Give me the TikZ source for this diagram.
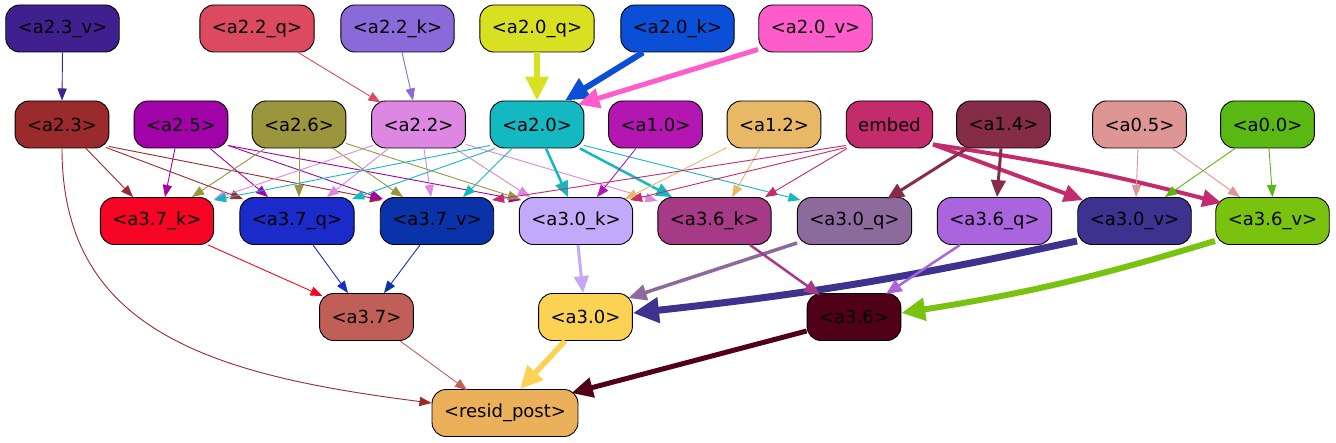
\documentclass[tikz,border=0pt]{standalone}
\usepackage{fontspec}
\newfontfamily\dv{DejaVu Sans}
\usetikzlibrary{arrows.meta}
\definecolor{c23v}{HTML}{40208F}
\definecolor{c22q}{HTML}{DC4A5F}
\definecolor{c22k}{HTML}{8A6AD8}
\definecolor{c20q}{HTML}{D9E021}
\definecolor{c20k}{HTML}{0A4FD6}
\definecolor{c20v}{HTML}{FF5CCB}
\definecolor{c23}{HTML}{9B2A2C}
\definecolor{c25}{HTML}{A203A8}
\definecolor{c26}{HTML}{9B963D}
\definecolor{c22}{HTML}{DD86E2}
\definecolor{c20}{HTML}{14B8C1}
\definecolor{c10}{HTML}{B316B1}
\definecolor{c12}{HTML}{E7B866}
\definecolor{cemb}{HTML}{C32B6D}
\definecolor{c14}{HTML}{852C49}
\definecolor{c05}{HTML}{DD9694}
\definecolor{c00}{HTML}{5AB813}
\definecolor{c37k}{HTML}{F60524}
\definecolor{c37q}{HTML}{1A2BC9}
\definecolor{c37v}{HTML}{0A33A9}
\definecolor{c30k}{HTML}{C3A9F9}
\definecolor{c36k}{HTML}{A63A86}
\definecolor{c30q}{HTML}{8D6A9C}
\definecolor{c36q}{HTML}{A964DE}
\definecolor{c30v}{HTML}{3E328F}
\definecolor{c36v}{HTML}{79C30F}
\definecolor{c37}{HTML}{C05F58}
\definecolor{c30}{HTML}{FBD253}
\definecolor{c36}{HTML}{510019}
\definecolor{cres}{HTML}{EBB05A}
\tikzset{
  nd/.style={draw=black, line width=0.9pt, rounded corners=14pt, minimum height=47pt,
    inner xsep=12pt, inner ysep=0pt, font={\dv\fontsize{18}{20}\selectfont}, text=black},
  e/.style={-{Triangle[length=10pt 2.3, width=7pt 2.5]}, line width=0.9pt},
}
\begin{document}
\begin{tikzpicture}[x=1pt,y=1pt]
\fill[white] (0,0) rectangle (1336,-443);
\useasboundingbox (0,0) rectangle (1336,-443);
% row 1
\node[nd, fill=c23v] (a23v) at (62.5,-28.5) {<a2.3\_v>};
\node[nd, fill=c22q] (a22q) at (257,-28.5) {<a2.2\_q>};
\node[nd, fill=c22k] (a22k) at (397.5,-28.5) {<a2.2\_k>};
\node[nd, fill=c20q] (a20q) at (537,-28.5) {<a2.0\_q>};
\node[nd, fill=c20k] (a20k) at (677.5,-28.5) {<a2.0\_k>};
\node[nd, fill=c20v] (a20v) at (815.5,-28.5) {<a2.0\_v>};
% row 2
\node[nd, fill=c23] (a23) at (62,-124.5) {<a2.3>};
\node[nd, fill=c25] (a25) at (181,-124.5) {<a2.5>};
\node[nd, fill=c26] (a26) at (299,-124.5) {<a2.6>};
\node[nd, fill=c22] (a22) at (418.5,-124.5) {<a2.2>};
\node[nd, fill=c20] (a20) at (537,-124.5) {<a2.0>};
\node[nd, fill=c10] (a10) at (655.5,-124.5) {<a1.0>};
\node[nd, fill=c12] (a12) at (774,-124.5) {<a1.2>};
\node[nd, fill=cemb] (emb) at (889.5,-124.5) {embed};
\node[nd, fill=c14] (a14) at (1003.5,-124.5) {<a1.4>};
\node[nd, fill=c05] (a05) at (1139.5,-124.5) {<a0.5>};
\node[nd, fill=c00] (a00) at (1267.5,-124.5) {<a0.0>};
% row 3
\node[nd, fill=c37k] (a37k) at (157,-221) {<a3.7\_k>};
\node[nd, fill=c37q] (a37q) at (297,-221) {<a3.7\_q>};
\node[nd, fill=c37v] (a37v) at (437,-221) {<a3.7\_v>};
\node[nd, fill=c30k] (a30k) at (576,-221) {<a3.0\_k>};
\node[nd, fill=c36k] (a36k) at (714.5,-221) {<a3.6\_k>};
\node[nd, fill=c30q] (a30q) at (854.5,-221) {<a3.0\_q>};
\node[nd, fill=c36q] (a36q) at (994.5,-221) {<a3.6\_q>};
\node[nd, fill=c30v] (a30v) at (1134.5,-221) {<a3.0\_v>};
\node[nd, fill=c36v] (a36v) at (1272.5,-221) {<a3.6\_v>};
% row 4
\node[nd, fill=c37] (a37) at (366.5,-317) {<a3.7>};
\node[nd, fill=c30] (a30) at (585.5,-317) {<a3.0>};
\node[nd, fill=c36] (a36) at (854,-317) {<a3.6>};
% row 5
\node[nd, fill=cres] (res) at (505,-413) {<resid\_post>};

% row1 -> row2
\draw[e, c23v] (a23v.south) -- (a23.north);
\draw[e, c22q] ([xshift=41]a22q.south) -- ([xshift=-38,yshift=-2]a22.north);
\draw[e, c22k] ([xshift=4.5]a22k.south) -- ([xshift=-5.5]a22.north);
\draw[e, c20q, line width=6pt] (a20q.south) -- (a20.north);
\draw[e, c20k, line width=6pt] ([xshift=-34.5]a20k.south) -- ([xshift=28]a20.north);
\draw[e, c20v, line width=5pt] ([xshift=-57.5,yshift=3]a20v.south) -- ([xshift=41,yshift=-4]a20.north);

% row2 -> row3
\draw[e, c23] ([xshift=24]a23.south) -- ([xshift=-24]a37k.north);
\draw[e, c23] ([xshift=44,yshift=1]a23.south) -- ([xshift=-54,yshift=-2]a37q.north);
\draw[e, c23] ([xshift=47,yshift=2]a23.south) -- ([xshift=-55,yshift=-3]a37v.north);
\draw[e, c23] (a23.south) .. controls (62,-330) and (210,-375) .. ([yshift=10]res.west);

\draw[e, c25] ([xshift=-6]a25.south) -- ([xshift=8]a37k.north);
\draw[e, c25] ([xshift=29]a25.south) -- ([xshift=-29]a37q.north);
\draw[e, c25] ([xshift=47,yshift=3]a25.south) -- ([xshift=-54,yshift=-2]a37v.north);
\draw[e, c25] ([xshift=47,yshift=3]a25.south) -- ([xshift=-55,yshift=-3]a30k.north);

\draw[e, c26] ([xshift=-34]a26.south) -- ([xshift=35]a37k.north);
\draw[e, c26] (a26.south) -- ([xshift=2]a37q.north);
\draw[e, c26] ([xshift=34]a26.south) -- ([xshift=-34]a37v.north);
\draw[e, c26] ([xshift=47,yshift=5]a26.south) -- ([xshift=-56,yshift=-2]a30k.north);

\draw[e, c22] ([xshift=-45.5,yshift=3]a22.south) -- ([xshift=57,yshift=-2]a37k.north);
\draw[e, c22] ([xshift=-30]a22.south) -- ([xshift=30]a37q.north);
\draw[e, c22] ([xshift=5.5]a22.south) -- ([xshift=-6]a37v.north);
\draw[e, c22] ([xshift=36.5]a22.south) -- ([xshift=-46]a30k.north);
\draw[e, c22] ([xshift=47.5,yshift=4]a22.south) -- ([xshift=-57,yshift=-4]a36k.north);

\draw[e, c20] ([xshift=-47,yshift=3]a20.south) -- ([xshift=57,yshift=-3]a37k.north);
\draw[e, c20] ([xshift=-42]a20.south) -- ([xshift=55,yshift=-2]a37q.north);
\draw[e, c20] ([xshift=-25]a20.south) -- ([xshift=26]a37v.north);
\draw[e, c20, line width=2.5pt] ([xshift=9]a20.south) -- ([xshift=-8]a30k.north);
\draw[e, c20, line width=2.5pt] ([xshift=43]a20.south) -- ([xshift=-42.5]a36k.north);
\draw[e, c20] ([xshift=47,yshift=3]a20.south) -- ([xshift=-54,yshift=-3]a30q.north);

\draw[e, c10] ([xshift=-19.5]a10.south) -- ([xshift=21]a30k.north);
\draw[e, c12] ([xshift=-47,yshift=1]a12.south) -- ([xshift=49,yshift=-2]a30k.north);
\draw[e, c12] ([xshift=-14]a12.south) -- ([xshift=17.5]a36k.north);

\draw[e, cemb] ([xshift=-43.5,yshift=3]emb.south) -- ([xshift=55,yshift=-3]a37v.north);
\draw[e, cemb] ([xshift=-43.5,yshift=1]emb.south) -- ([xshift=54,yshift=-3]a30k.north);
\draw[e, cemb] ([xshift=-42.5]emb.south) -- ([xshift=50.5]a36k.north);
\draw[e, cemb, line width=4pt] ([xshift=43.5,yshift=4]emb.south) -- ([xshift=-51.5,yshift=-3]a30v.north);
\draw[e, cemb, line width=4pt] ([xshift=43.5,yshift=4]emb.south) to[bend left=3] ([xshift=-51,yshift=-6]a36v.north);

\draw[e, c14, line width=3pt] ([xshift=-36.5]a14.south) -- ([xshift=32.5,yshift=-2]a30q.north);
\draw[e, c14, line width=3pt] ([xshift=-2.5]a14.south) -- ([xshift=2.5]a36q.north);
\draw[e, c05] ([xshift=-1.5]a05.south) -- ([xshift=1.5]a30v.north);
\draw[e, c05] ([xshift=32.5]a05.south) -- ([xshift=-32.5]a36v.north);
\draw[e, c00] ([xshift=-32.5]a00.south) -- ([xshift=30.5]a30v.north);
\draw[e, c00] ([xshift=1.5]a00.south) -- (a36v.north);

% row3 -> row4
\draw[e, c37k] ([xshift=51]a37k.south) -- ([xshift=-44,yshift=-3]a37.north);
\draw[e, c37q] ([xshift=16]a37q.south) -- ([xshift=-18.5]a37.north);
\draw[e, c37v] ([xshift=-17]a37v.south) -- ([xshift=17.5]a37.north);
\draw[e, c30k, line width=3pt] ([xshift=2]a30k.south) -- ([xshift=-2.5]a30.north);
\draw[e, c30q, line width=3.5pt] ([xshift=-57.5,yshift=2]a30q.south) -- ([xshift=43,yshift=-5]a30.north);
\draw[e, c30v, line width=7pt] ([xshift=-57.5,yshift=4]a30v.south) to[bend left=3] ([yshift=4]a30.east);
\draw[e, c36k, line width=2.5pt] ([xshift=35.5]a36k.south) -- ([xshift=-34,yshift=-2]a36.north);
\draw[e, c36q, line width=2.5pt] ([xshift=-34.5]a36q.south) -- ([xshift=32,yshift=-1]a36.north);
\draw[e, c36v, line width=6pt] ([xshift=-57.5,yshift=4]a36v.south) to[bend left=4] ([yshift=4]a36.east);

% row4 -> resid
\draw[e, c37] ([xshift=33.5]a37.south) -- ([xshift=-38,yshift=-1]res.north);
\draw[e, c30, line width=5.5pt] ([xshift=-20.5]a30.south) -- ([xshift=15]res.north);
\draw[e, c36, line width=5pt] ([yshift=-14]a36.west) -- ([xshift=-7,yshift=-4]res.north east);
\end{tikzpicture}
\end{document}
